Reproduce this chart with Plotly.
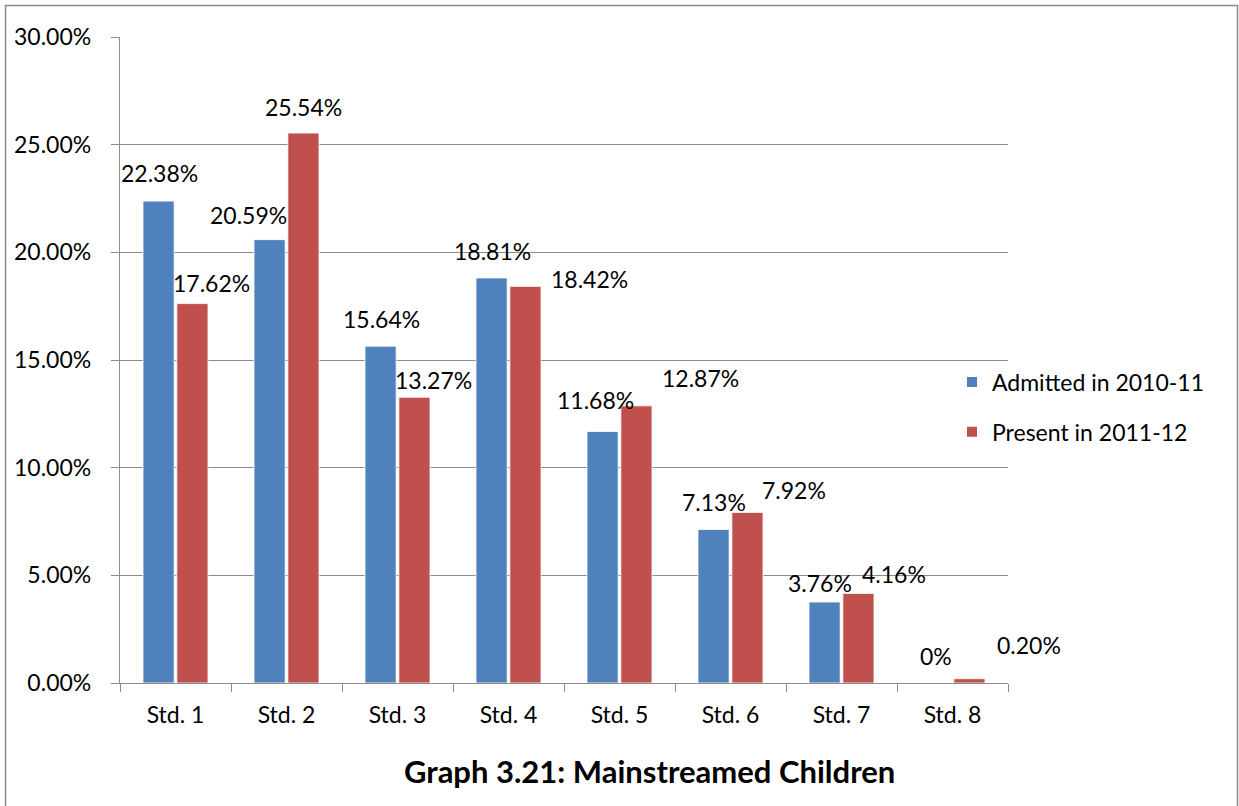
import plotly.graph_objects as go

# Share of mainstreamed children by standard (percent)
categories = ["Std. 1", "Std. 2", "Std. 3", "Std. 4", "Std. 5", "Std. 6", "Std. 7", "Std. 8"]
admitted_2010_11 = [22.38, 20.59, 15.64, 18.81, 11.68, 7.13, 3.76, 0.0]
present_2011_12 = [17.62, 25.54, 13.27, 18.42, 12.87, 7.92, 4.16, 0.20]
admitted_labels = ["22.38%", "20.59%", "15.64%", "18.81%", "11.68%", "7.13%", "3.76%", "0%"]
present_labels = ["17.62%", "25.54%", "13.27%", "18.42%", "12.87%", "7.92%", "4.16%", "0.20%"]
y_ticks = [0, 5, 10, 15, 20, 25, 30]

# Hand-placed label offsets (pixels from category centre / bar top)
admitted_dx = [-16.5, -38.5, -16.5, -16.5, -24.5, -16.5, -22, -16.5]
admitted_dy = [28, 25, 27, 27, 31, 27, 19, 27]
present_dx = [35.5, 17, 35.5, 80.5, 80.5, 63.5, 52.5, 76.5]
present_dy = [21, 26, 17, 7, 28, 22.5, 19.5, 34]

BLUE = "#4F81BD"
RED = "#C0504D"
GRID = "#8C8C8C"
FONT = "Lato"
FS = 23

fig = go.Figure()
fig.add_trace(go.Bar(
    x=categories, y=admitted_2010_11, name="Admitted in 2010-11", legendgroup="a",
    marker=dict(color=BLUE, line=dict(color="white", width=0.8)),
    hoverinfo="skip",
))
fig.add_trace(go.Bar(
    x=categories, y=present_2011_12, name="Present in 2011-12", legendgroup="p",
    marker=dict(color=RED, line=dict(color="white", width=0.8)),
    hoverinfo="skip",
))

annotations = []
for cat, val, txt, dx, dy in zip(categories, admitted_2010_11, admitted_labels, admitted_dx, admitted_dy):
    annotations.append(dict(x=cat, y=val, text=txt, showarrow=False, xshift=dx, yshift=dy,
                            xanchor="center", yanchor="middle",
                            font=dict(family=FONT, size=FS, color="black")))
for cat, val, txt, dx, dy in zip(categories, present_2011_12, present_labels, present_dx, present_dy):
    annotations.append(dict(x=cat, y=val, text=txt, showarrow=False, xshift=dx, yshift=dy,
                            xanchor="center", yanchor="middle",
                            font=dict(family=FONT, size=FS, color="black")))

# Chart title below the axis
annotations.append(dict(x=(649 - 120) / 888, y=(683 - 771) / 646, xref="paper", yref="paper",
                        text="<b>Graph 3.21: Mainstreamed Children</b>", showarrow=False,
                        xanchor="center", yanchor="middle",
                        font=dict(family=FONT, size=31, color="black")))

fig.update_layout(
    width=1239, height=806,
    margin=dict(l=120, r=231, t=37, b=123, autoexpand=False),
    paper_bgcolor="white", plot_bgcolor="white",
    barmode="group", bargap=0.39, bargroupgap=0.08,
    font=dict(family=FONT, size=FS, color="black"),
    showlegend=True,
    legend=dict(xref="container", yref="container", x=952 / 1239, y=1 - 407 / 806,
                xanchor="left", yanchor="middle",
                font=dict(family=FONT, size=FS), bgcolor="rgba(0,0,0,0)",
                traceorder="grouped", tracegroupgap=17, itemsizing="constant"),
    annotations=annotations,
    shapes=[dict(type="rect", xref="paper", yref="paper",
                 x0=(5.5 - 120) / 888, x1=(1237.5 - 120) / 888,
                 y0=(683 - 820) / 646, y1=1 + (37 - 5.5) / 646,
                 line=dict(color="#8A8A8A", width=1.5), fillcolor="rgba(0,0,0,0)", layer="below")],
)

fig.update_xaxes(
    range=[-0.5, len(categories) - 0.5], autorange=False,
    showline=True, linecolor=GRID, linewidth=1.3,
    ticks="outside", ticklen=8, tickcolor=GRID, tickwidth=1.3,
    tickson="boundaries", showgrid=False,
    tickfont=dict(family=FONT, size=FS, color="black"), ticklabelstandoff=11,
)
fig.update_yaxes(
    range=[0, 30], autorange=False, tickvals=y_ticks, ticktext=[f"{v:.2f}%" for v in y_ticks],
    showline=True, linecolor=GRID, linewidth=1.3,
    ticks="outside", ticklen=8, tickcolor=GRID, tickwidth=1.3,
    showgrid=True, gridcolor=GRID, gridwidth=1.3, zeroline=False,
    tickfont=dict(family=FONT, size=FS, color="black"), ticklabelstandoff=15,
)

fig.write_html("out.html")
